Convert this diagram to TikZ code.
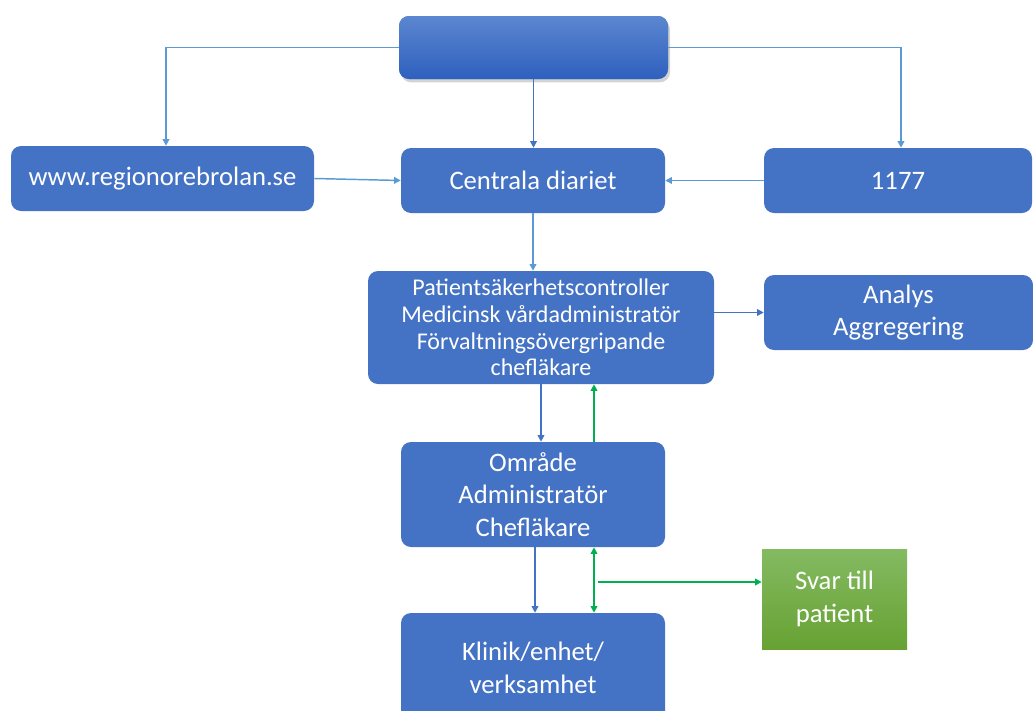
\documentclass[tikz,border=0pt]{standalone}
\usepackage{fontspec}
\setmainfont{Carlito}
\usetikzlibrary{positioning,arrows.meta,shadows,calc}

\definecolor{boxblue}{HTML}{4472C4}
\definecolor{lineblue}{HTML}{5B9BD5}
\definecolor{arrgreen}{HTML}{00B050}
\definecolor{toptop}{HTML}{5B86D0}
\definecolor{topbot}{HTML}{2E60BE}
\definecolor{svartop}{HTML}{84BA62}
\definecolor{svarbot}{HTML}{67A233}

\tikzset{
  box/.style={draw=none, fill=boxblue, rounded corners=7.5pt, text=white,
    align=center, inner sep=2pt, font=\fontsize{20}{24.5}\selectfont},
  flow/.style={-{Triangle[length=5pt,width=5pt]}, line width=1.1pt, draw=boxblue},
  lflow/.style={-{Triangle[length=5pt,width=5pt]}, line width=1.1pt, draw=lineblue},
  gflow/.style={-{Triangle[length=5pt,width=5pt]}, line width=1.3pt, draw=arrgreen},
}

\begin{document}
\begin{tikzpicture}[x=0.75pt, y=-0.75pt]
    \useasboundingbox (0,0) rectangle (1033,711);

    \node[box, minimum width=269*0.75pt, minimum height=63*0.75pt,
          top color=toptop, bottom color=topbot,
          drop shadow={shadow xshift=1.5pt, shadow yshift=-2.5pt, opacity=0.35}]
          (top) at (533.5, 47.5) {};

    \node[box, minimum width=303*0.75pt, minimum height=65*0.75pt] (www) at (162.5, 178.5) {www.regionorebrolan.se};
    \node[box, minimum width=264*0.75pt, minimum height=65*0.75pt] (diariet) at (533, 180.5) {Centrala diariet};
    \node[box, minimum width=268*0.75pt, minimum height=65*0.75pt] (vard) at (898, 180.5) {1177};

    \node[box, minimum width=346*0.75pt, minimum height=113*0.75pt,
          font=\fontsize{18}{20}\selectfont] (psc) at (541, 327.5)
          {Patientsäkerhetscontroller\\Medicinsk vårdadministratör\\Förvaltningsövergripande\\chefläkare};
    \node[box, minimum width=269*0.75pt, minimum height=75*0.75pt] (analys) at (898.5, 312.5) {Analys\\Aggregering};

    \node[box, minimum width=264*0.75pt, minimum height=105*0.75pt] (omrade) at (533, 494.5) {Område\\Administratör\\Chefläkare};
    \node[box, minimum width=264*0.75pt, minimum height=110*0.75pt] (klinik) at (533, 668) {Klinik/enhet/\\verksamhet};

    \node[box, rounded corners=0pt, minimum width=145*0.75pt, minimum height=100*0.75pt,
          top color=svartop, bottom color=svarbot]
          (svar) at (834.5, 599) {Svar till\\patient};

    \coordinate (gj) at (598, 582);

    % from the top box
    \draw[lflow] (top.west) -| ($(www.north)+(3.5,0)$);
    \draw[lflow] (top.east) -| ($(vard.north)+(3,0)$);
    \draw[flow] (top.south) -- (top.south |- diariet.north);

    \draw[lflow] (www.east) -- (diariet.west);
    \draw[lflow] (vard.west) -- (diariet.west -| diariet.east);
    \draw[lflow] (diariet.south) -- (diariet.south |- psc.north);
    \draw[flow] (psc.east |- analys.west) -- (analys.west);

    \draw[flow] (psc.south) -- (psc.south |- omrade.north);
    \draw[gflow] ($(omrade.north)+(61,0)$) -- ($(psc.south)+(53,0)$);
    \draw[flow] ($(omrade.south)+(2,0)$) -- ($(klinik.north)+(2,0)$);
    \draw[gflow, {Triangle[length=5pt,width=5pt]}-{Triangle[length=5pt,width=5pt]}]
        ($(omrade.south)+(61,0)$) -- ($(klinik.north)+(61,0)$);
    \draw[gflow] (gj) -- (gj -| svar.west);
\end{tikzpicture}
\end{document}
